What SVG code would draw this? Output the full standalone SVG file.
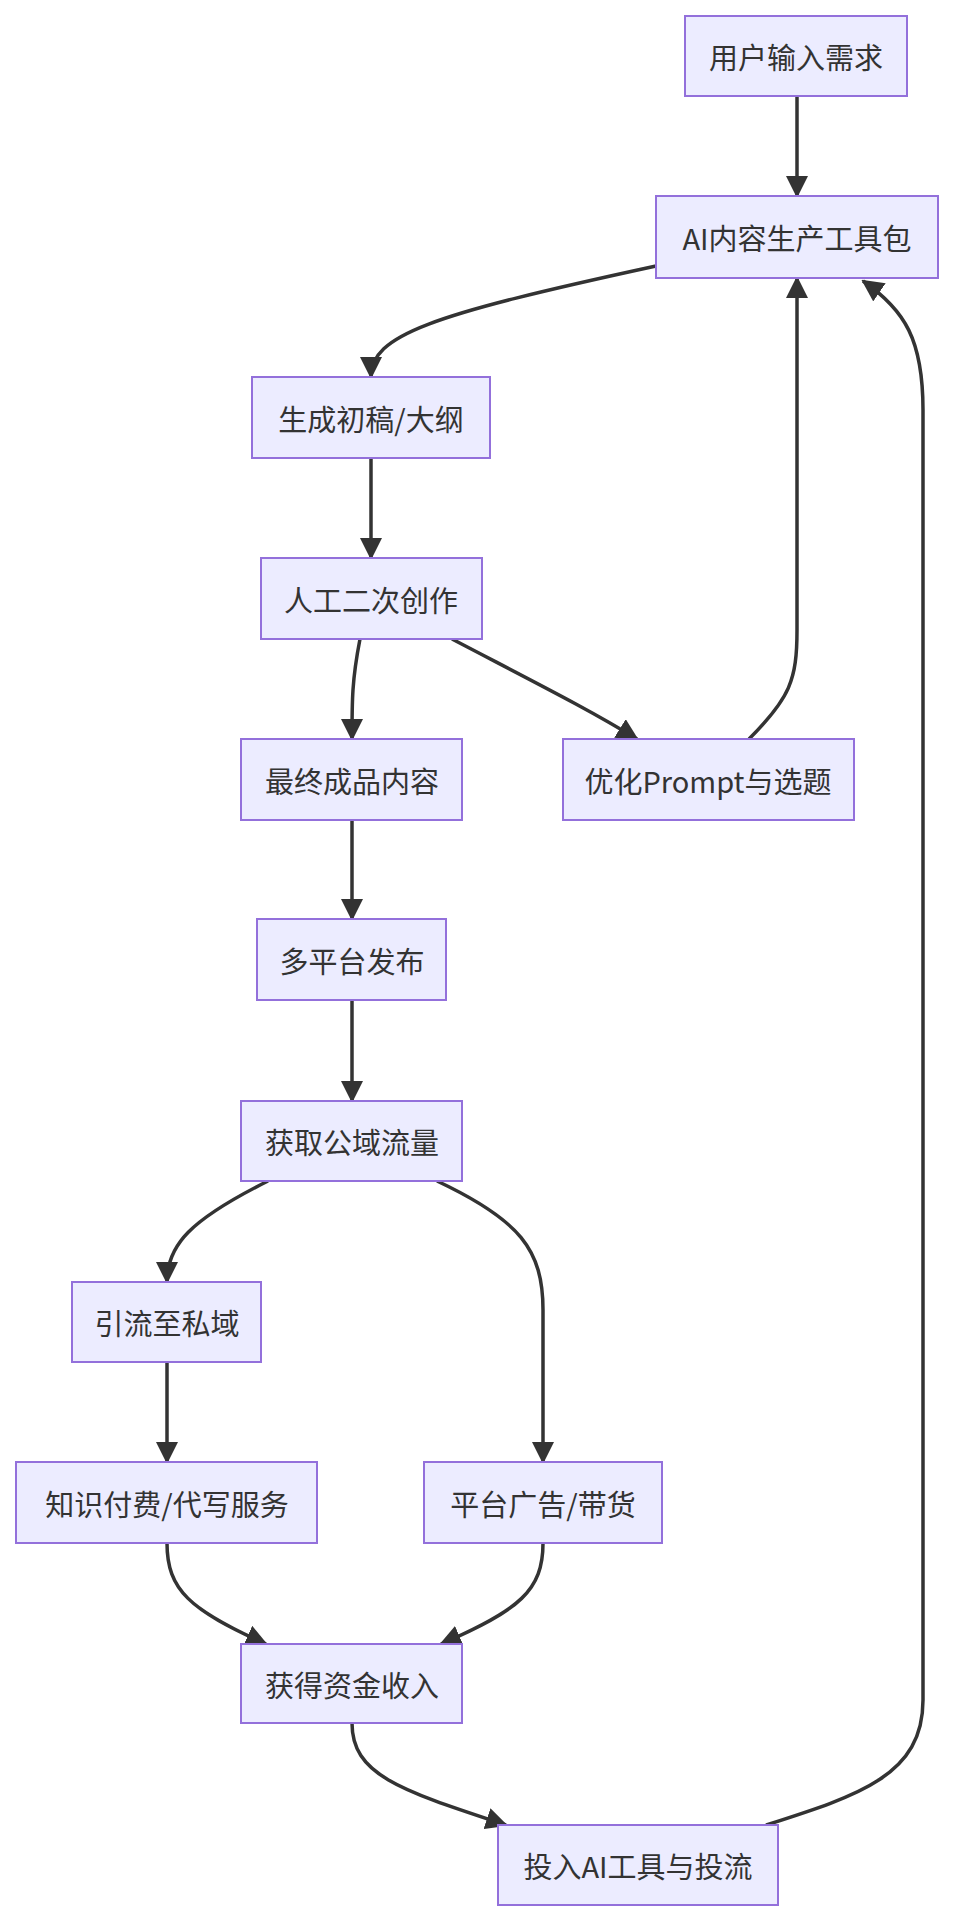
<svg xmlns="http://www.w3.org/2000/svg" width="956" height="1926" viewBox="0 0 956 1926">
<style>
.n rect{fill:#ECECFF;stroke:#9370DB;stroke-width:2}
.n text{font-family:"Noto Sans CJK SC","Liberation Sans",sans-serif;font-size:29px;fill:#333;text-anchor:middle;dominant-baseline:central}
.e path{fill:none;stroke:#333;stroke-width:3.5}
</style>
<defs>
<marker id="a" markerUnits="userSpaceOnUse" markerWidth="22" markerHeight="22" refX="20" refY="11" orient="auto">
<path d="M0,0 L22,11 L0,22 Z" fill="#333"/>
</marker>
</defs>
<rect width="956" height="1926" fill="#fff"/>
<g class="e">
<path d="M797,96 L797,196" marker-end="url(#a)"/>
<path d="M656,266 C430,315 371,335 371,377" marker-end="url(#a)"/>
<path d="M371,458 L371,558" marker-end="url(#a)"/>
<path d="M360,639 C352,680 352,700 352,739" marker-end="url(#a)"/>
<path d="M452,639 C540,685 590,710 637,739" marker-end="url(#a)"/>
<path d="M749,739 C790,698 797,680 797,630 L797,278" marker-end="url(#a)"/>
<path d="M352,820 L352,919" marker-end="url(#a)"/>
<path d="M352,1000 L352,1101" marker-end="url(#a)"/>
<path d="M268,1181 C190,1220 167,1245 167,1282" marker-end="url(#a)"/>
<path d="M437,1181 C520,1220 543,1250 543,1310 L543,1462" marker-end="url(#a)"/>
<path d="M167,1362 L167,1462" marker-end="url(#a)"/>
<path d="M167,1543 C167,1590 190,1610 266,1644" marker-end="url(#a)"/>
<path d="M543,1543 C543,1590 520,1610 441,1644" marker-end="url(#a)"/>
<path d="M352,1723 C352,1775 400,1790 506,1825" marker-end="url(#a)"/>
<path d="M766,1825 C860,1795 923,1775 923,1700 L923,410 C923,340 905,310 863,281" marker-end="url(#a)"/>
</g>
<g id="n1" class="n"><rect x="685" y="16" width="222" height="80"/><text x="796" y="56">用户输入需求</text></g>
<g id="n2" class="n"><rect x="656" y="196" width="282" height="82"/><text x="797" y="237">AI内容生产工具包</text></g>
<g id="n3" class="n"><rect x="252" y="377" width="238" height="81"/><text x="371" y="418">生成初稿/大纲</text></g>
<g id="n4" class="n"><rect x="261" y="558" width="221" height="81"/><text x="371" y="599">人工二次创作</text></g>
<g id="n5" class="n"><rect x="241" y="739" width="221" height="81"/><text x="352" y="780">最终成品内容</text></g>
<g id="n6" class="n"><rect x="563" y="739" width="291" height="81"/><text x="708" y="780">优化Prompt与选题</text></g>
<g id="n7" class="n"><rect x="257" y="919" width="189" height="81"/><text x="352" y="960">多平台发布</text></g>
<g id="n8" class="n"><rect x="241" y="1101" width="221" height="80"/><text x="352" y="1141">获取公域流量</text></g>
<g id="n9" class="n"><rect x="72" y="1282" width="189" height="80"/><text x="167" y="1322">引流至私域</text></g>
<g id="n10" class="n"><rect x="16" y="1462" width="301" height="81"/><text x="167" y="1503">知识付费/代写服务</text></g>
<g id="n11" class="n"><rect x="424" y="1462" width="238" height="81"/><text x="543" y="1503">平台广告/带货</text></g>
<g id="n12" class="n"><rect x="241" y="1644" width="221" height="79"/><text x="352" y="1684">获得资金收入</text></g>
<g id="n13" class="n"><rect x="498" y="1825" width="280" height="80"/><text x="638" y="1865">投入AI工具与投流</text></g>
</svg>
